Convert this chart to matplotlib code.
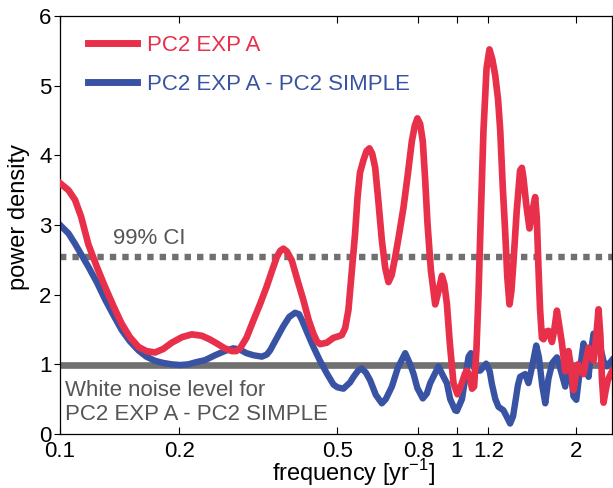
import matplotlib
matplotlib.use('Agg')
import matplotlib.pyplot as plt
from matplotlib.ticker import FixedLocator, FixedFormatter, NullLocator

plt.rcParams['font.family'] = ['Liberation Sans', 'DejaVu Sans']

# PC2 EXP A spectrum
freq_red = [0.1000, 0.1050, 0.1091, 0.1130, 0.1179, 0.1240, 0.1299, 0.1365, 0.1431, 0.1500,
            0.1576, 0.1650, 0.1736, 0.1820, 0.1912, 0.2030, 0.2148, 0.2276, 0.2380, 0.2483,
            0.2600, 0.2710, 0.2780, 0.2843, 0.2950, 0.3071, 0.3200, 0.3319, 0.3420, 0.3518,
            0.3590, 0.3655, 0.3730, 0.3838, 0.3960, 0.4105, 0.4230, 0.4350, 0.4440, 0.4522,
            0.4700, 0.4886, 0.5020, 0.5130, 0.5230, 0.5330, 0.5430, 0.5541, 0.5620, 0.5700,
            0.5815, 0.5920, 0.6021, 0.6120, 0.6223, 0.6340, 0.6471, 0.6600, 0.6724, 0.6850,
            0.6992, 0.7160, 0.7336, 0.7520, 0.7700, 0.7830, 0.7953, 0.8080, 0.8206, 0.8320,
            0.8433, 0.8600, 0.8818, 0.8990, 0.9168, 0.9300, 0.9436, 0.9600, 0.9804, 1.0035,
            1.0250, 1.049, 1.060, 1.075, 1.092, 1.105, 1.120, 1.133, 1.150, 1.167,
            1.188, 1.208, 1.228, 1.249, 1.270, 1.286, 1.305, 1.323, 1.340, 1.357,
            1.372, 1.388, 1.415, 1.443, 1.458, 1.471, 1.495, 1.524, 1.550, 1.575,
            1.590, 1.605, 1.620, 1.638, 1.653, 1.680, 1.702, 1.736, 1.760, 1.787,
            1.812, 1.840, 1.875, 1.911, 1.940, 1.967, 1.995, 2.020, 2.050, 2.085,
            2.115, 2.147, 2.180, 2.210, 2.245, 2.275, 2.300, 2.320, 2.342, 2.370,
            2.400, 2.460]
pow_red = [3.60, 3.50, 3.36, 3.12, 2.72, 2.39, 2.11, 1.83, 1.58, 1.39,
           1.25, 1.19, 1.17, 1.22, 1.31, 1.39, 1.43, 1.41, 1.36, 1.30,
           1.23, 1.19, 1.19, 1.23, 1.38, 1.63, 1.88, 2.12, 2.34, 2.54,
           2.63, 2.66, 2.62, 2.49, 2.22, 1.92, 1.64, 1.44, 1.33, 1.29,
           1.31, 1.38, 1.40, 1.42, 1.52, 1.78, 2.30, 2.88, 3.40, 3.75,
           3.93, 4.06, 4.10, 4.02, 3.83, 3.35, 2.78, 2.38, 2.18, 2.28,
           2.54, 2.88, 3.25, 3.72, 4.20, 4.42, 4.53, 4.45, 4.20, 3.65,
           3.02, 2.35, 1.86, 2.05, 2.27, 2.15, 1.87, 1.30, 0.73, 0.57,
           0.70, 0.87, 0.91, 0.85, 0.65, 0.68, 1.20, 1.96, 3.20, 4.36,
           5.25, 5.52, 5.38, 5.15, 4.80, 4.36, 3.55, 2.92, 2.25, 1.86,
           2.05, 2.45, 3.20, 3.78, 3.82, 3.68, 3.30, 2.95, 3.20, 3.40,
           3.10, 2.40, 1.80, 1.38, 1.36, 1.47, 1.48, 1.32, 1.50, 1.77,
           1.55, 1.30, 0.90, 1.19, 0.95, 0.63, 0.85, 1.00, 0.90, 0.86,
           1.05, 1.24, 1.12, 1.05, 1.40, 1.79, 1.40, 0.80, 0.45, 0.62,
           0.77, 0.90]

# PC2 EXP A - PC2 SIMPLE spectrum
freq_blue = [0.1000, 0.1050, 0.1091, 0.1130, 0.1179, 0.1240, 0.1299, 0.1365, 0.1431, 0.1500,
             0.1576, 0.1650, 0.1736, 0.1820, 0.1912, 0.2010, 0.2106, 0.2200, 0.2320, 0.2459,
             0.2600, 0.2735, 0.2843, 0.2950, 0.3071, 0.3225, 0.3320, 0.3384, 0.3520, 0.3655,
             0.3780, 0.3912, 0.4000, 0.4067, 0.4200, 0.4350, 0.4520, 0.4702, 0.4886, 0.5000,
             0.5177, 0.5380, 0.5490, 0.5640, 0.5761, 0.5900, 0.6046, 0.6250, 0.6471, 0.6620,
             0.6859, 0.7100, 0.7409, 0.7600, 0.7771, 0.7950, 0.8206, 0.8400, 0.8566, 0.8988,
             0.9200, 0.9436, 0.9619, 0.9901, 1.000, 1.030, 1.050, 1.070, 1.085, 1.100,
             1.112, 1.145, 1.185, 1.210, 1.225, 1.250, 1.273, 1.310, 1.335, 1.362,
             1.385, 1.402, 1.425, 1.443, 1.486, 1.515, 1.545, 1.585, 1.610, 1.640,
             1.670, 1.702, 1.740, 1.787, 1.830, 1.875, 1.911, 1.940, 1.967, 2.000,
             2.040, 2.085, 2.120, 2.147, 2.180, 2.210, 2.250, 2.298, 2.340, 2.388,
             2.460]
pow_blue = [3.00, 2.88, 2.73, 2.58, 2.40, 2.17, 1.93, 1.70, 1.49, 1.33,
            1.20, 1.11, 1.05, 1.02, 1.00, 0.99, 1.00, 1.03, 1.06, 1.13,
            1.19, 1.23, 1.21, 1.16, 1.13, 1.11, 1.14, 1.20, 1.38, 1.55,
            1.68, 1.74, 1.72, 1.64, 1.45, 1.25, 1.05, 0.87, 0.71, 0.67,
            0.65, 0.74, 0.82, 0.91, 0.94, 0.88, 0.77, 0.56, 0.44, 0.50,
            0.68, 0.95, 1.16, 1.02, 0.87, 0.66, 0.51, 0.58, 0.73, 0.97,
            0.85, 0.73, 0.50, 0.34, 0.33, 0.50, 0.80, 1.11, 1.16, 1.00,
            0.91, 0.91, 1.01, 0.90, 0.72, 0.50, 0.39, 0.34, 0.25, 0.15,
            0.25, 0.44, 0.70, 0.82, 0.86, 0.73, 0.95, 1.27, 1.10, 0.70,
            0.44, 0.80, 1.02, 1.10, 0.90, 0.68, 1.01, 0.85, 0.54, 0.49,
            0.90, 1.30, 1.00, 0.82, 1.20, 1.44, 1.35, 1.25, 1.05, 0.97,
            1.06]

ci99 = 2.54
white_noise = 0.99

xticks = [0.1, 0.2, 0.5, 0.8, 1, 1.2, 2]
xticklabels = ['0.1', '0.2', '0.5', '0.8', '1', '1.2', '2']
yticks = [0, 1, 2, 3, 4, 5, 6]

red = '#E8304B'
blue = '#3953A4'
grey = '#707070'

fig = plt.figure(figsize=(6.13, 4.88), dpi=100)
ax = fig.add_axes([0.0979, 0.1107, 0.9005, 0.8566])
ax.set_xscale('log')

ax.axhline(white_noise, color=grey, lw=4.8, zorder=1)
ax.axhline(ci99, color=grey, lw=4.6, ls=(0, (1, 0.95)), dash_capstyle='butt', zorder=1)

lb, = ax.plot(freq_blue, pow_blue, color=blue, lw=4.6, solid_joinstyle='round',
              label='PC2 EXP A - PC2 SIMPLE', zorder=2)
lr, = ax.plot(freq_red, pow_red, color=red, lw=4.8, solid_joinstyle='round',
              label='PC2 EXP A', zorder=3)

ax.set_xlim(0.1, 2.46)
ax.set_ylim(0, 6)

ax.xaxis.set_major_locator(FixedLocator(xticks))
ax.xaxis.set_major_formatter(FixedFormatter(xticklabels))
ax.xaxis.set_minor_locator(NullLocator())
ax.set_yticks(yticks)

ax.tick_params(axis='x', direction='in', length=5, width=0.8, top=True, labelsize=16, pad=5)
ax.tick_params(axis='y', direction='out', length=4, width=0.8, right=True, labelsize=16, pad=2)
for s in ax.spines.values():
    s.set_linewidth(0.9)

ax.set_xlabel('frequency [yr$^{\\mathregular{-1}}$]', fontsize=17)
ax.xaxis.set_label_coords(0.531, -0.056)
ax.set_ylabel('power density', fontsize=17)
ax.yaxis.set_label_coords(-0.055, 0.52)

ax.text(0.096, 0.4665, '99% CI', transform=ax.transAxes, fontsize=16,
        color='#555555', ha='left', va='center')
ax.text(0.009, 0.075, 'White noise level for\nPC2 EXP A - PC2 SIMPLE', transform=ax.transAxes,
        fontsize=16, color='#555555', ha='left', va='center', linespacing=1.15)

leg = ax.legend(handles=[lr, lb], loc='upper left', bbox_to_anchor=(0.051, 0.955),
                borderaxespad=0, borderpad=0, frameon=False, fontsize=16,
                handlelength=2.2, handletextpad=0.45, labelspacing=0.8,
                labelcolor='linecolor')
for h in leg.legend_handles:
    h.set_linewidth(5)

fig.savefig('out.png', dpi=100)
